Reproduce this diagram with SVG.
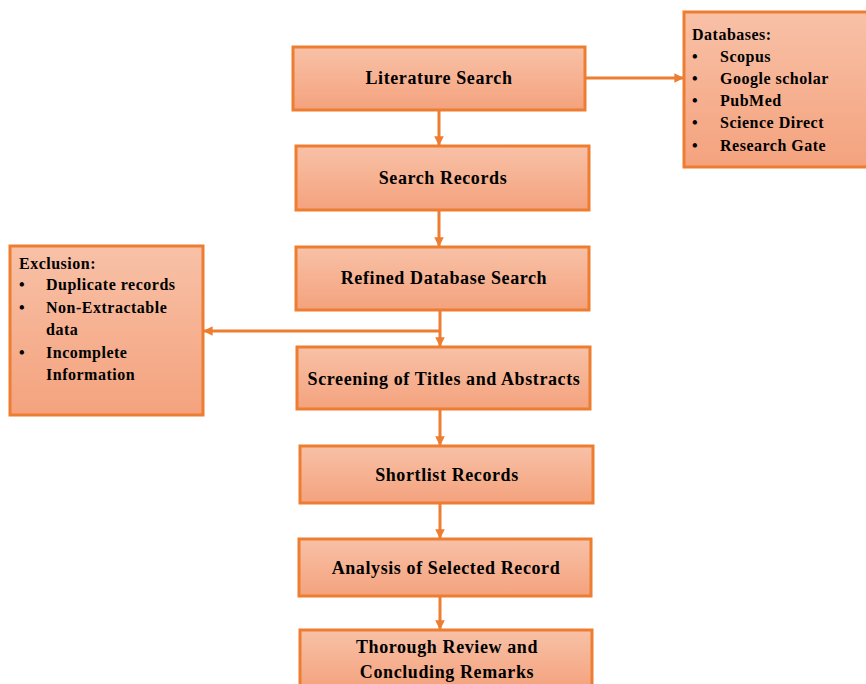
<svg xmlns="http://www.w3.org/2000/svg" width="866" height="684" viewBox="0 0 866 684">
<defs>
<linearGradient id="g" x1="0" y1="0" x2="0" y2="1">
<stop offset="0" stop-color="#F8C1A7"/>
<stop offset="1" stop-color="#F4A27D"/>
</linearGradient>
<marker id="ah" viewBox="0 0 10 10" refX="9" refY="5" markerWidth="3.2" markerHeight="3.2" orient="auto" markerUnits="strokeWidth">
<path d="M0,0 L10,5 L0,10 z" fill="#ED7D31"/>
</marker>
<style>
.box{fill:url(#g);stroke:#ED7D31;stroke-width:3}
.lbl{font-family:"Liberation Serif","Times New Roman",serif;font-weight:bold;font-size:18px;letter-spacing:0.6px;fill:#000;text-anchor:middle}
.lst{font-family:"Liberation Serif","Times New Roman",serif;font-weight:bold;font-size:16px;letter-spacing:0.5px;fill:#000}
.con{stroke:#ED7D31;stroke-width:3;fill:none}
</style>
</defs>
<rect width="866" height="684" fill="#fff"/>
<g id="connectors">
<line class="con" x1="439" y1="110" x2="439" y2="145" marker-end="url(#ah)"/>
<line class="con" x1="439" y1="210" x2="439" y2="246" marker-end="url(#ah)"/>
<line class="con" x1="440" y1="310" x2="440" y2="346" marker-end="url(#ah)"/>
<line class="con" x1="440" y1="331" x2="204" y2="331" marker-end="url(#ah)"/>
<line class="con" x1="440" y1="409" x2="440" y2="445" marker-end="url(#ah)"/>
<line class="con" x1="440" y1="503" x2="440" y2="538" marker-end="url(#ah)"/>
<line class="con" x1="440" y1="596" x2="440" y2="629" marker-end="url(#ah)"/>
<line class="con" x1="585" y1="78" x2="683" y2="78" marker-end="url(#ah)"/>
</g>
<g id="literature-search">
<rect class="box" x="293" y="47" width="292" height="63"/>
<text class="lbl" x="439" y="84">Literature Search</text>
</g>
<g id="search-records">
<rect class="box" x="296" y="146" width="293" height="64"/>
<text class="lbl" x="443" y="184">Search Records</text>
</g>
<g id="refined-database-search">
<rect class="box" x="296" y="247" width="293" height="63"/>
<text class="lbl" x="444" y="284">Refined Database Search</text>
</g>
<g id="screening">
<rect class="box" x="297" y="347" width="293" height="62"/>
<text class="lbl" x="444" y="385">Screening of Titles and Abstracts</text>
</g>
<g id="shortlist-records">
<rect class="box" x="300" y="446" width="293" height="57"/>
<text class="lbl" x="447" y="481">Shortlist Records</text>
</g>
<g id="analysis">
<rect class="box" x="299" y="539" width="292" height="57"/>
<text class="lbl" x="446" y="574">Analysis of Selected Record</text>
</g>
<g id="thorough-review">
<rect class="box" x="300" y="630" width="292" height="60"/>
<text class="lbl" x="447" y="653">Thorough Review and</text>
<text class="lbl" x="447" y="678">Concluding Remarks</text>
</g>
<g id="databases">
<rect class="box" x="684" y="12" width="184" height="155"/>
<text class="lst" x="692" y="40">Databases:</text>
<text class="lst" x="692" y="62">•</text><text class="lst" x="720" y="62">Scopus</text>
<text class="lst" x="692" y="84">•</text><text class="lst" x="720" y="84">Google scholar</text>
<text class="lst" x="692" y="106">•</text><text class="lst" x="720" y="106">PubMed</text>
<text class="lst" x="692" y="128">•</text><text class="lst" x="720" y="128">Science Direct</text>
<text class="lst" x="692" y="151">•</text><text class="lst" x="720" y="151">Research Gate</text>
</g>
<g id="exclusion">
<rect class="box" x="10" y="246" width="193" height="169"/>
<text class="lst" x="19" y="269">Exclusion:</text>
<text class="lst" x="19" y="290">•</text><text class="lst" x="46" y="290">Duplicate records</text>
<text class="lst" x="19" y="313">•</text><text class="lst" x="46" y="313">Non-Extractable</text>
<text class="lst" x="46" y="335">data</text>
<text class="lst" x="19" y="358">•</text><text class="lst" x="46" y="358">Incomplete</text>
<text class="lst" x="46" y="380">Information</text>
</g>
</svg>
